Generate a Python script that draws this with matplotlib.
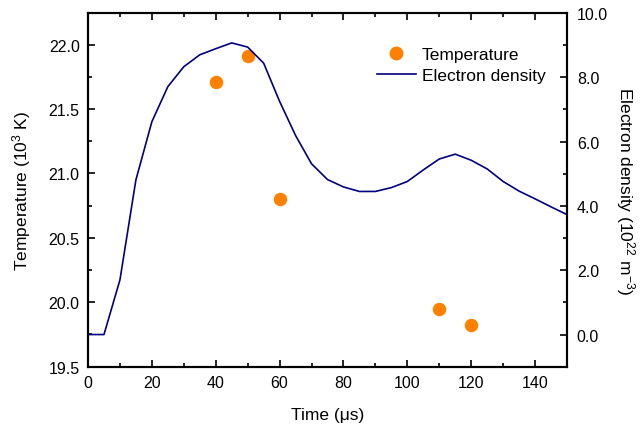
import matplotlib
matplotlib.use("Agg")
import matplotlib.pyplot as plt
from matplotlib.ticker import MultipleLocator
from matplotlib.lines import Line2D

plt.rcParams['font.family'] = ['Liberation Sans', 'DejaVu Sans']
plt.rcParams['font.size'] = 12.5
plt.rcParams['mathtext.fontset'] = 'custom'
plt.rcParams['mathtext.rm'] = 'Liberation Sans'
plt.rcParams['mathtext.default'] = 'regular'

# temperature measurements (10^3 K)
temp_time = [40, 50, 60, 110, 120]
temp_vals = [21.71, 21.91, 20.80, 19.95, 19.82]

# electron density (10^22 m^-3), every 5 us
dens_time = list(range(0, 155, 5))
dens_vals = [0.0, 0.0, 1.70, 4.81, 6.62, 7.71, 8.33, 8.70, 8.89, 9.07,
             8.94, 8.44, 7.25, 6.19, 5.31, 4.82, 4.59, 4.45, 4.45, 4.57,
             4.76, 5.12, 5.46, 5.61, 5.42, 5.15, 4.76, 4.46, 4.22, 3.97,
             3.73]

ORANGE = '#ff8000'
NAVY = '#000080'

fig = plt.figure(figsize=(6.41, 4.27), dpi=100)
ax = fig.add_axes([0.1373, 0.1389, 0.7473, 0.8283])
ax2 = ax.twinx()

ax.scatter(temp_time, temp_vals, s=75, color=ORANGE, zorder=3)
ax2.plot(dens_time, dens_vals, color=NAVY, lw=1.2)

ax.set_xlim(0, 150)
ax.set_ylim(19.5, 22.246)
ax2.set_ylim(-1.0, 10.0)

ax.xaxis.set_major_locator(MultipleLocator(20))
ax.xaxis.set_minor_locator(MultipleLocator(10))
ax.yaxis.set_major_locator(MultipleLocator(0.5))
ax.yaxis.set_minor_locator(MultipleLocator(0.25))
ax2.yaxis.set_major_locator(MultipleLocator(2))
ax2.yaxis.set_minor_locator(MultipleLocator(1))
ax.yaxis.set_major_formatter(lambda v, p: f"{v:.1f}")
ax2.yaxis.set_major_formatter(lambda v, p: f"{v:.1f}" if v >= 0 else "")

ax.tick_params(which='both', direction='in', top=True, right=False, width=1.2,
               labelsize=11.5, pad=6)
ax.tick_params(which='major', length=5)
ax.tick_params(which='minor', length=3)
ax2.tick_params(which='both', direction='in', width=1.2, labelsize=11.5, pad=7)
ax2.tick_params(which='major', length=5)
ax2.tick_params(which='minor', length=3)
for a in (ax, ax2):
    for sp in a.spines.values():
        sp.set_linewidth(1.5)

ax.set_xlabel('Time (\u03bcs)', labelpad=12)
ax.set_ylabel('Temperature (10$^{3}$ K)', labelpad=11)
ax2.set_ylabel('Electron density (10$^{22}$ m$^{-3}$)', rotation=270, labelpad=21)

handles = [Line2D([], [], ls='none', marker='o', ms=9, color=ORANGE),
           Line2D([], [], color=NAVY, lw=1.2)]
fig.legend(handles, ['Temperature', 'Electron density'], frameon=False,
           loc='upper left', bbox_to_anchor=(0.588, 0.888), handlelength=2.25,
           handletextpad=0.35, labelspacing=0.36, borderaxespad=0, borderpad=0)

fig.savefig('out.png', dpi=100)
